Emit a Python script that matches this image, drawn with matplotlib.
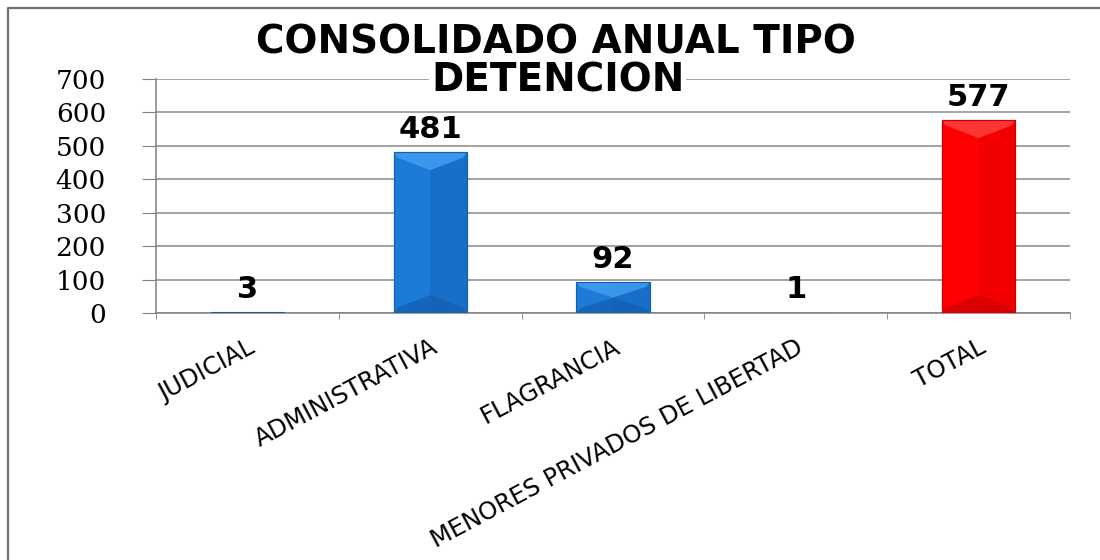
import matplotlib
matplotlib.use("Agg")
import matplotlib.pyplot as plt
import numpy as np
from matplotlib.lines import Line2D
from matplotlib.patches import Polygon, Rectangle

categories = ["JUDICIAL", "ADMINISTRATIVA", "FLAGRANCIA",
              "MENORES PRIVADOS DE LIBERTAD", "TOTAL"]
values = [3, 481, 92, 1, 577]
yticks = [0, 100, 200, 300, 400, 500, 600, 700]
title_lines = ["CONSOLIDADO ANUAL TIPO", "DETENCION"]

blue = dict(base="#1c7bd6", top="#3f9bee", bottom="#1461b3", right="#176fc7", edge="#145fae")
red = dict(base="#ff0000", top="#ff3a3a", bottom="#d40000", right="#f20000", edge="#c80000")
styles = [blue, blue, blue, blue, red]

fig = plt.figure(figsize=(11, 5.6), dpi=100)
ax = fig.add_axes([156 / 1100, 1 - 313 / 560, (1070 - 156) / 1100, (313 - 79) / 560])

x = np.arange(len(categories))
width = 0.4
bars = ax.bar(x, values, width=width, color=[s["base"] for s in styles],
              edgecolor=[s["edge"] for s in styles], linewidth=0.8, zorder=3)

# bevel look: lighter top wedge, darker bottom wedge, darker right half
px_y = 700 / 234.0
for b, s in zip(bars, styles):
    x0 = b.get_x()
    x1 = x0 + b.get_width()
    xc = (x0 + x1) / 2
    h = b.get_height()
    if h < 5:
        continue
    d = min(18 * px_y, h / 2)
    ax.add_patch(Polygon([(xc, 0), (x1, 0), (x1, h), (xc, h)], closed=True,
                         facecolor=s["right"], edgecolor="none", zorder=3.1))
    ax.add_patch(Polygon([(x0, h), (x1, h), (x1 - 0.02, h - d * 0.3), (xc, h - d), (x0 + 0.02, h - d * 0.3)],
                         closed=True, facecolor=s["top"], edgecolor="none", zorder=3.2, alpha=0.9))
    ax.add_patch(Polygon([(x0, 0), (x1, 0), (x1 - 0.02, d * 0.3), (xc, d), (x0 + 0.02, d * 0.3)],
                         closed=True, facecolor=s["bottom"], edgecolor="none", zorder=3.2, alpha=0.8))
    ax.add_patch(Rectangle((x0, 0), b.get_width(), h, facecolor="none",
                           edgecolor=s["edge"], linewidth=0.8, zorder=3.3))

for xi, v in zip(x, values):
    ax.annotate(str(v), (xi, v), xytext=(0, 6), textcoords="offset points",
                ha="center", va="bottom", fontsize=22, fontweight="bold",
                family="DejaVu Sans", color="black", zorder=5)

ax.set_xlim(-0.5, len(categories) - 0.5)
ax.set_ylim(0, 700)
ax.set_yticks(yticks)
ax.set_yticklabels([str(t) for t in yticks], family="DejaVu Serif", fontsize=19)
ax.yaxis.grid(True, color="#8a8a8a", linewidth=1.1, zorder=0)
ax.set_axisbelow(True)

ax.set_xticks(x)
ax.set_xticklabels(categories, rotation=28, ha="right", va="top", rotation_mode="anchor",
                   family="DejaVu Sans", fontsize=17.5)
ax.set_xticks(np.arange(-0.5, len(categories)), minor=True)
ax.tick_params(axis="x", which="major", length=0, pad=16)
ax.tick_params(axis="x", which="minor", length=4, color="#808080", direction="out")
ax.tick_params(axis="y", length=10, color="#808080", pad=26)

for side in ["top", "right"]:
    ax.spines[side].set_visible(False)
for side in ["left", "bottom"]:
    ax.spines[side].set_color("#808080")
    ax.spines[side].set_linewidth(1.1)

# two title lines; the second one sits over the top gridline and hides it
fig.text(0.505, 1 - 54 / 560, title_lines[0], ha="center", va="baseline", fontsize=28,
         fontweight="bold", family="DejaVu Sans", zorder=10)
fig.text(0.507, 1 - 92 / 560, title_lines[1], ha="center", va="baseline", fontsize=28,
         fontweight="bold", family="DejaVu Sans", zorder=10,
         bbox=dict(boxstyle="square,pad=0.05", facecolor="white", edgecolor="none"))

# outer frame of the chart (left and top edges visible)
fig.lines.append(Line2D([8 / 1100, 8 / 1100, 1.0], [0.0, 1 - 8 / 560, 1 - 8 / 560],
                        transform=fig.transFigure, color="#707070", linewidth=1.6))

fig.savefig("out.png", dpi=100)
